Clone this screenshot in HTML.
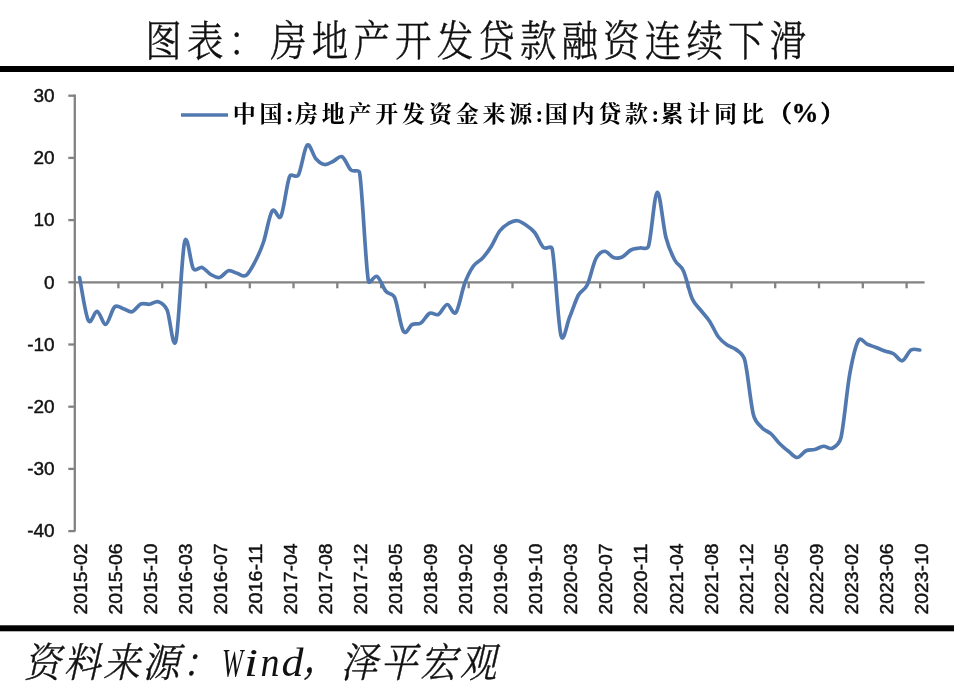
<!DOCTYPE html>
<html lang="zh-CN"><head><meta charset="utf-8"><title>图表：房地产开发贷款融资连续下滑</title>
<style>
html,body{margin:0;padding:0;background:#fff;}
body{width:960px;height:684px;overflow:hidden;}
svg{display:block;}
.t{font-family:"Liberation Serif","Noto Serif CJK SC",serif;font-weight:300;fill:#111;stroke:#111;stroke-width:0.4;}
.lg{font-family:"Liberation Serif","Noto Serif CJK SC",serif;font-weight:700;fill:#000;}
.ax{font-family:"Liberation Sans",sans-serif;font-size:19px;fill:#111;stroke:#111;stroke-width:0.45;}
.lat{font-family:"Liberation Serif",serif;font-style:italic;fill:#111;}
.src{font-family:"Liberation Mono","Noto Serif CJK SC",serif;font-weight:300;fill:#111;font-style:italic;stroke:#111;stroke-width:0.4;}
</style></head><body>
<svg width="960" height="684" viewBox="0 0 960 684">
<rect width="960" height="684" fill="#fff"/>
<g transform="translate(0,55.6) scale(1,1.14)"><text class="t" font-size="36.5" x="145.3 186.9 228.5 270.2 311.8 353.4 395.0 436.7 478.3 519.9 561.6 603.2 644.8 686.5 728.1 769.7" y="0">图表：房地产开发贷款融资连续下滑</text></g>
<rect x="0" y="66" width="954" height="6" fill="#000"/>
<rect x="0" y="625.3" width="954" height="6" fill="#000"/>
<g stroke="#828282" stroke-width="2.3" fill="none">
<path d="M74.8 94.6V531.6"/>
<path d="M74.8 282.3H924.6"/>
<path d="M68.3 95.7H74.8"/>
<path d="M68.3 157.9H74.8"/>
<path d="M68.3 220.1H74.8"/>
<path d="M68.3 282.3H74.8"/>
<path d="M68.3 344.5H74.8"/>
<path d="M68.3 406.7H74.8"/>
<path d="M68.3 468.9H74.8"/>
<path d="M68.3 531.1H74.8"/>
<path d="M118.4 282.3V288.3"/>
<path d="M162.2 282.3V288.3"/>
<path d="M206.0 282.3V288.3"/>
<path d="M249.8 282.3V288.3"/>
<path d="M293.5 282.3V288.3"/>
<path d="M337.3 282.3V288.3"/>
<path d="M381.1 282.3V288.3"/>
<path d="M424.9 282.3V288.3"/>
<path d="M468.7 282.3V288.3"/>
<path d="M512.5 282.3V288.3"/>
<path d="M556.3 282.3V288.3"/>
<path d="M600.1 282.3V288.3"/>
<path d="M643.9 282.3V288.3"/>
<path d="M687.7 282.3V288.3"/>
<path d="M731.5 282.3V288.3"/>
<path d="M775.2 282.3V288.3"/>
<path d="M819.0 282.3V288.3"/>
<path d="M862.8 282.3V288.3"/>
<path d="M906.6 282.3V288.3"/>
</g>
<text class="ax" x="54.6" y="101.9" text-anchor="end">30</text>
<text class="ax" x="54.6" y="164.1" text-anchor="end">20</text>
<text class="ax" x="54.6" y="226.3" text-anchor="end">10</text>
<text class="ax" x="54.6" y="288.5" text-anchor="end">0</text>
<text class="ax" x="54.6" y="350.7" text-anchor="end">-10</text>
<text class="ax" x="54.6" y="412.9" text-anchor="end">-20</text>
<text class="ax" x="54.6" y="475.1" text-anchor="end">-30</text>
<text class="ax" x="54.6" y="537.3" text-anchor="end">-40</text>
<text class="ax" transform="translate(80.0,614.5) rotate(-90)" x="0" y="6.8" textLength="71" lengthAdjust="spacingAndGlyphs">2015-02</text>
<text class="ax" transform="translate(115.0,614.5) rotate(-90)" x="0" y="6.8" textLength="71" lengthAdjust="spacingAndGlyphs">2015-06</text>
<text class="ax" transform="translate(150.1,614.5) rotate(-90)" x="0" y="6.8" textLength="71" lengthAdjust="spacingAndGlyphs">2015-10</text>
<text class="ax" transform="translate(185.1,614.5) rotate(-90)" x="0" y="6.8" textLength="71" lengthAdjust="spacingAndGlyphs">2016-03</text>
<text class="ax" transform="translate(220.2,614.5) rotate(-90)" x="0" y="6.8" textLength="71" lengthAdjust="spacingAndGlyphs">2016-07</text>
<text class="ax" transform="translate(255.2,614.5) rotate(-90)" x="0" y="6.8" textLength="71" lengthAdjust="spacingAndGlyphs">2016-11</text>
<text class="ax" transform="translate(290.2,614.5) rotate(-90)" x="0" y="6.8" textLength="71" lengthAdjust="spacingAndGlyphs">2017-04</text>
<text class="ax" transform="translate(325.3,614.5) rotate(-90)" x="0" y="6.8" textLength="71" lengthAdjust="spacingAndGlyphs">2017-08</text>
<text class="ax" transform="translate(360.3,614.5) rotate(-90)" x="0" y="6.8" textLength="71" lengthAdjust="spacingAndGlyphs">2017-12</text>
<text class="ax" transform="translate(395.4,614.5) rotate(-90)" x="0" y="6.8" textLength="71" lengthAdjust="spacingAndGlyphs">2018-05</text>
<text class="ax" transform="translate(430.4,614.5) rotate(-90)" x="0" y="6.8" textLength="71" lengthAdjust="spacingAndGlyphs">2018-09</text>
<text class="ax" transform="translate(465.4,614.5) rotate(-90)" x="0" y="6.8" textLength="71" lengthAdjust="spacingAndGlyphs">2019-02</text>
<text class="ax" transform="translate(500.5,614.5) rotate(-90)" x="0" y="6.8" textLength="71" lengthAdjust="spacingAndGlyphs">2019-06</text>
<text class="ax" transform="translate(535.5,614.5) rotate(-90)" x="0" y="6.8" textLength="71" lengthAdjust="spacingAndGlyphs">2019-10</text>
<text class="ax" transform="translate(570.6,614.5) rotate(-90)" x="0" y="6.8" textLength="71" lengthAdjust="spacingAndGlyphs">2020-03</text>
<text class="ax" transform="translate(605.6,614.5) rotate(-90)" x="0" y="6.8" textLength="71" lengthAdjust="spacingAndGlyphs">2020-07</text>
<text class="ax" transform="translate(640.6,614.5) rotate(-90)" x="0" y="6.8" textLength="71" lengthAdjust="spacingAndGlyphs">2020-11</text>
<text class="ax" transform="translate(675.7,614.5) rotate(-90)" x="0" y="6.8" textLength="71" lengthAdjust="spacingAndGlyphs">2021-04</text>
<text class="ax" transform="translate(710.7,614.5) rotate(-90)" x="0" y="6.8" textLength="71" lengthAdjust="spacingAndGlyphs">2021-08</text>
<text class="ax" transform="translate(745.8,614.5) rotate(-90)" x="0" y="6.8" textLength="71" lengthAdjust="spacingAndGlyphs">2021-12</text>
<text class="ax" transform="translate(780.8,614.5) rotate(-90)" x="0" y="6.8" textLength="71" lengthAdjust="spacingAndGlyphs">2022-05</text>
<text class="ax" transform="translate(815.8,614.5) rotate(-90)" x="0" y="6.8" textLength="71" lengthAdjust="spacingAndGlyphs">2022-09</text>
<text class="ax" transform="translate(850.9,614.5) rotate(-90)" x="0" y="6.8" textLength="71" lengthAdjust="spacingAndGlyphs">2023-02</text>
<text class="ax" transform="translate(885.9,614.5) rotate(-90)" x="0" y="6.8" textLength="71" lengthAdjust="spacingAndGlyphs">2023-06</text>
<text class="ax" transform="translate(921.0,614.5) rotate(-90)" x="0" y="6.8" textLength="71" lengthAdjust="spacingAndGlyphs">2023-10</text>
<path d="M79.58 277.50 C81.03 284.67 85.41 314.88 88.33 320.50 C91.25 326.12 94.16 310.62 97.08 311.25 C100.00 311.88 102.91 324.96 105.83 324.25 C108.75 323.54 111.67 309.58 114.58 307.00 C117.50 304.42 120.42 307.96 123.34 308.75 C126.25 309.54 129.17 312.54 132.09 311.75 C135.01 310.96 137.92 305.25 140.84 304.00 C143.76 302.75 146.67 304.62 149.59 304.25 C152.51 303.88 155.43 300.79 158.34 301.75 C161.26 302.71 164.65 304.51 167.10 310.00 C170.01 316.54 172.93 352.33 175.85 341.00 C178.77 329.67 181.68 254.04 184.60 242.00 C187.52 229.96 190.43 264.50 193.35 268.75 C195.85 272.39 199.19 266.54 202.10 267.50 C205.02 268.46 207.94 272.83 210.86 274.50 C213.77 276.17 216.69 278.12 219.61 277.50 C222.53 276.88 225.44 271.46 228.36 270.75 C231.28 270.04 234.19 272.46 237.11 273.25 C240.03 274.04 242.95 277.29 245.86 275.50 C248.78 273.71 251.70 268.00 254.62 262.50 C257.53 257.00 260.45 251.08 263.37 242.50 C266.29 233.92 269.20 215.33 272.12 211.00 C275.01 206.71 278.53 221.11 280.87 216.50 C283.79 210.75 286.71 183.42 289.62 176.50 C291.35 172.41 296.21 178.88 298.38 175.00 C301.29 169.78 304.21 147.91 307.13 145.20 C310.05 142.49 312.96 155.53 315.88 158.75 C318.80 161.97 321.71 164.08 324.63 164.50 C327.55 164.92 330.47 162.54 333.38 161.25 C336.30 159.96 339.22 155.29 342.14 156.75 C345.05 158.21 347.97 167.29 350.89 170.00 C353.81 172.71 358.92 168.43 359.64 173.00 C362.56 191.50 365.47 263.75 368.39 281.00 C369.21 285.85 374.23 274.79 377.14 276.50 C380.06 278.21 382.98 287.75 385.90 291.25 C388.81 294.75 392.49 292.57 394.65 297.50 C397.57 304.17 400.48 326.75 403.40 331.25 C406.32 335.75 409.23 325.88 412.15 324.50 C415.07 323.12 417.99 324.88 420.90 323.00 C423.82 321.12 426.74 314.67 429.66 313.25 C432.57 311.83 435.49 315.96 438.41 314.50 C441.33 313.04 444.24 304.83 447.16 304.50 C450.08 304.17 452.99 316.00 455.91 312.50 C458.83 309.00 461.75 291.25 464.66 283.50 C467.58 275.75 470.50 270.17 473.42 266.00 C476.33 261.83 479.25 261.67 482.17 258.50 C485.09 255.33 488.00 251.58 490.92 247.00 C493.84 242.42 496.75 234.92 499.67 231.00 C502.59 227.08 505.51 225.21 508.42 223.50 C511.34 221.79 514.26 220.50 517.18 220.75 C520.09 221.00 523.01 223.04 525.93 225.00 C528.85 226.96 531.76 228.75 534.68 232.50 C537.60 236.25 540.51 244.79 543.43 247.50 C546.35 250.21 551.32 244.41 552.18 248.75 C555.10 263.42 558.02 324.12 560.94 335.50 C563.48 345.41 566.77 323.75 569.69 317.00 C572.61 310.25 575.52 300.33 578.44 295.00 C581.36 289.67 584.32 290.99 587.19 285.00 C590.11 278.92 593.03 264.12 595.94 258.50 C598.56 253.46 601.78 251.42 604.70 251.25 C607.61 251.08 610.53 256.54 613.45 257.50 C616.37 258.46 619.28 258.25 622.20 257.00 C625.12 255.75 628.03 251.50 630.95 250.00 C633.87 248.50 636.79 248.62 639.70 248.00 C642.62 247.38 647.11 250.51 648.46 246.25 C651.37 237.00 654.29 193.96 657.21 192.50 C660.13 191.04 663.04 226.25 665.96 237.50 C668.88 248.75 671.79 254.42 674.71 260.00 C677.63 265.58 680.57 264.59 683.46 271.00 C686.38 277.46 689.30 292.17 692.22 298.75 C695.13 305.33 698.05 306.71 700.97 310.50 C703.89 314.29 706.80 317.08 709.72 321.50 C712.64 325.92 715.55 333.08 718.47 337.00 C721.39 340.92 724.31 342.92 727.22 345.00 C730.14 347.08 733.06 347.00 735.98 349.50 C738.89 352.00 742.96 353.40 744.73 360.00 C747.65 370.92 750.56 403.67 753.48 415.00 C755.43 422.59 759.31 424.88 762.23 428.00 C765.15 431.12 768.07 431.12 770.98 433.75 C773.90 436.38 776.82 440.83 779.74 443.75 C782.65 446.67 785.57 448.96 788.49 451.25 C791.41 453.54 794.32 457.58 797.24 457.50 C800.16 457.42 803.07 452.08 805.99 450.75 C808.91 449.42 811.83 450.25 814.74 449.50 C817.66 448.75 820.58 446.46 823.50 446.25 C826.41 446.04 829.33 449.71 832.25 448.25 C835.17 446.79 839.41 444.25 841.00 437.50 C843.92 425.12 846.83 390.17 849.75 374.00 C852.67 357.83 855.59 345.46 858.50 340.50 C860.92 336.40 864.34 343.08 867.26 344.25 C870.17 345.42 873.09 346.38 876.01 347.50 C878.93 348.62 881.84 349.96 884.76 351.00 C887.68 352.04 890.59 352.12 893.51 353.75 C896.43 355.38 899.35 361.38 902.26 360.75 C905.18 360.12 908.10 351.79 911.02 350.00 C913.93 348.21 918.31 350.00 919.77 350.00" fill="none" stroke="#5279af" stroke-width="3.7" stroke-linejoin="round" stroke-linecap="round"/>
<path d="M181 115H228" stroke="#5279af" stroke-width="3.7" fill="none"/>
<text class="lg" font-size="23.0" y="122.3"><tspan x="232.7 259.5 285.8 294.9 321.7 348.5 375.3 402.1 428.9 455.7 482.5 509.3 535.6 544.7 571.5 598.3 625.1 651.4 660.5 687.3 714.1 740.9">中国:房地产开发资金来源:国内贷款:累计同比</tspan><tspan x="768.7" stroke="#000" stroke-width="0.9">（</tspan><tspan x="791.6" font-size="27" stroke="#000" stroke-width="0.3">%</tspan><tspan x="820.5" stroke="#000" stroke-width="0.9">）</tspan></text>
<g transform="translate(0,676.5) scale(1,1.1)"><text class="src" font-size="37" y="0" x="23.8 63.4 103.0 142.6 182.2">资料来源：</text></g>
<text class="lat" font-size="40" y="676.3"><tspan x="222.0" textLength="21" lengthAdjust="spacingAndGlyphs">W</tspan><tspan x="244.0" textLength="14" lengthAdjust="spacingAndGlyphs">i</tspan><tspan x="260.5" textLength="19" lengthAdjust="spacingAndGlyphs">n</tspan><tspan x="281.5" textLength="22" lengthAdjust="spacingAndGlyphs">d</tspan></text>
<g transform="translate(0,676.5) scale(1,1.1)"><text class="src" font-size="37" y="0"><tspan x="303.0" dy="-4.5">，</tspan><tspan dy="4.5" x="340.6 380.2 419.8 459.4">泽平宏观</tspan></text></g>
</svg></body></html>
